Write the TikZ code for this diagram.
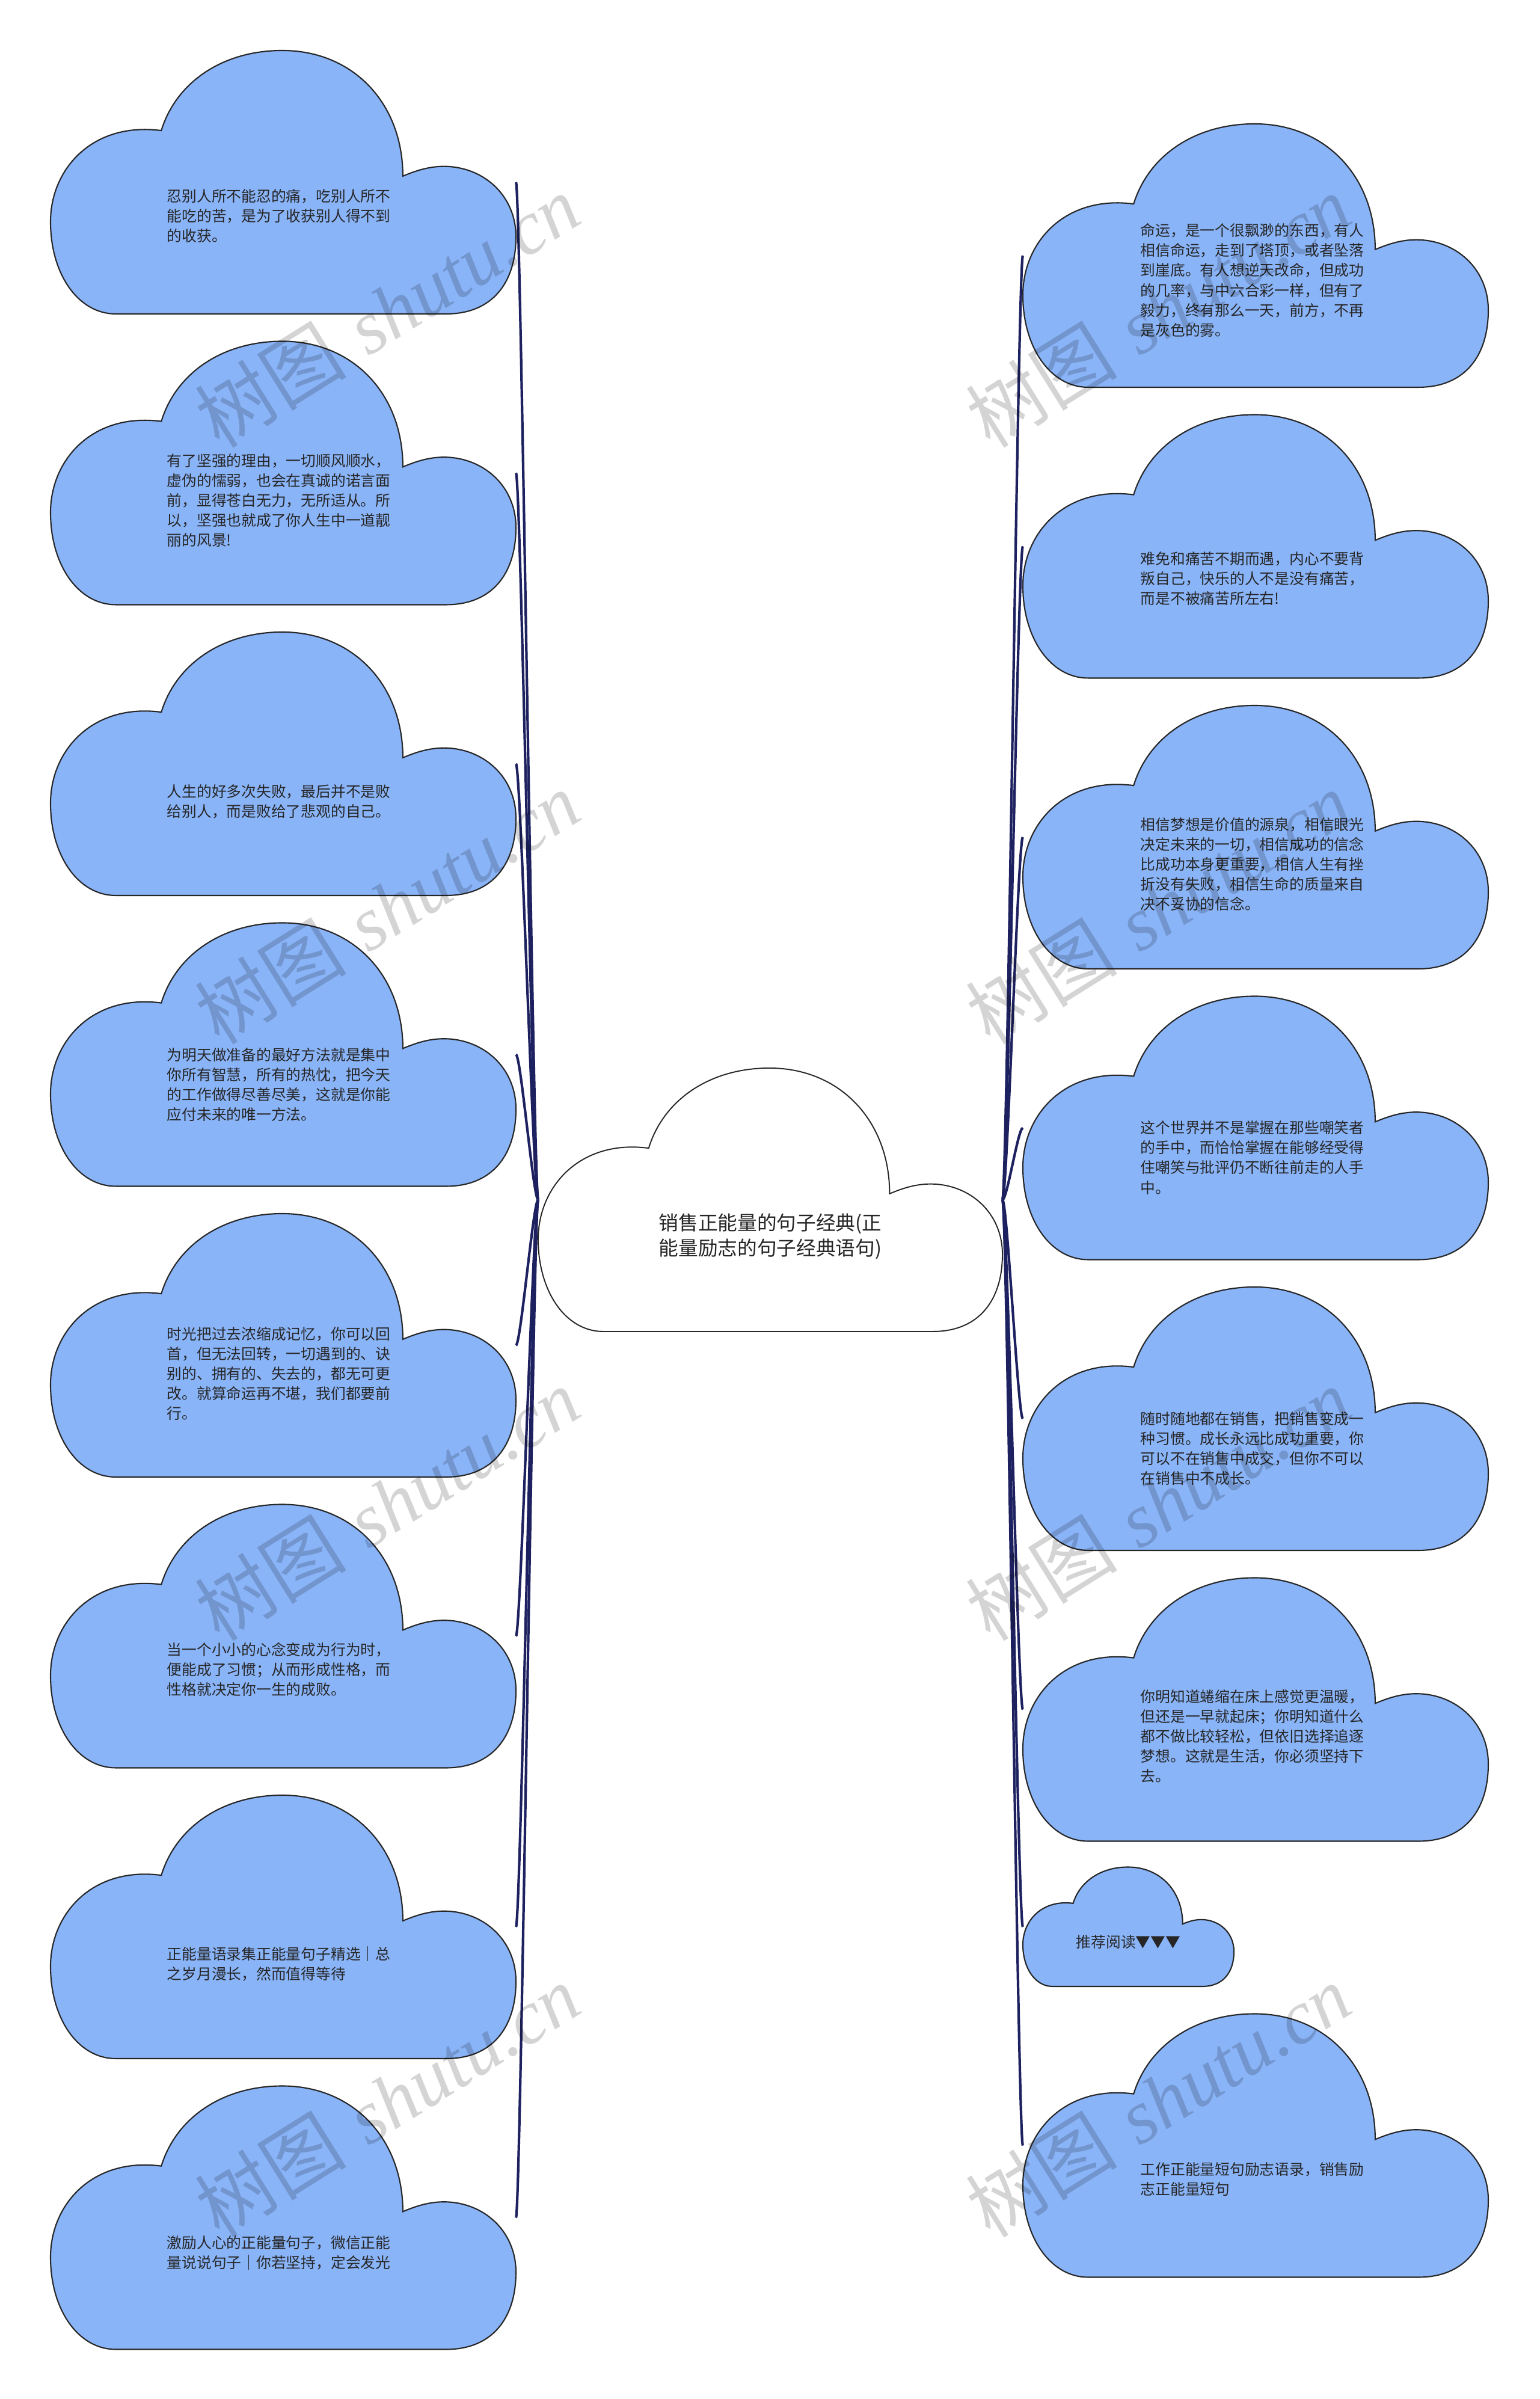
\documentclass[tikz,border=0pt]{standalone}
\usepackage{fontspec}
\newfontfamily\cjk{Noto Sans CJK SC}
\newfontfamily\wmfont{Liberation Serif}
\definecolor{cloudblue}{RGB}{138,180,248}
\definecolor{linknavy}{RGB}{30,33,95}
\begin{document}
\begin{tikzpicture}[
  link/.style={draw=linknavy,line width=1.2pt},
  cloud/.style={fill=cloudblue,draw=black!85,line width=0.6pt},
  hubcloud/.style={fill=white,draw=black!85,line width=0.55pt},
  quote/.style={font=\cjk\fontsize{7.05pt}{9.4pt}\selectfont,text=black!85,align=left,anchor=west,inner sep=0pt},
  hubtext/.style={font=\cjk\fontsize{9.3pt}{11.9pt}\selectfont,text=black!85,align=left,inner sep=0pt},
  wmark/.style={text=black,text opacity=0.17,rotate=32,inner sep=0pt,font=\fontsize{36pt}{40pt}\selectfont},
  cloudshape/.pic={
    \path[pic actions] (0.14,0) .. controls (0.06,0) and (0,0.15) .. (0,0.35)
      .. controls (0,0.55) and (0.09,0.73) .. (0.238,0.696)
      .. controls (0.27,0.88) and (0.37,1) .. (0.498,1)
      .. controls (0.65,1) and (0.757,0.8) .. (0.757,0.523)
      .. controls (0.78,0.54) and (0.81,0.56) .. (0.845,0.56)
      .. controls (0.93,0.56) and (1,0.45) .. (1,0.293)
      .. controls (1,0.12) and (0.95,0) .. (0.85,0) -- cycle;
  },
]
\useasboundingbox (0,0) rectangle (25.6,39.89);
% centre
\pic[hubcloud,xscale=7.72,yscale=4.38] at (8.95,17.75) {cloudshape};
\node[hubtext] (hub) at (12.81,19.33) {销售正能量的句子经典(正\\能量励志的句子经典语句)};
\coordinate (hubW) at (8.95,19.94);
\coordinate (hubE) at (16.67,19.94);
% left column
\foreach \by [count=\i] in {34.67,29.835,25.00,20.165,15.33,10.495,5.66,0.825}{
  \pic[cloud,xscale=7.74,yscale=4.38] at (0.84,\by) {cloudshape};
  \coordinate (l\i) at (8.58,\by+2.19);
  \draw[link] (hubW) .. controls +(-0.08,0) and +(0.08,0) .. (l\i);
}
\node[quote] (lq1) at (2.77,36.30) {忍别人所不能忍的痛，吃别人所不\\能吃的苦，是为了收获别人得不到\\的收获。};
\node[quote] (lq2) at (2.77,31.57) {有了坚强的理由，一切顺风顺水，\\虚伪的懦弱，也会在真诚的诺言面\\前，显得苍白无力，无所适从。所\\以，坚强也就成了你人生中一道靓\\丽的风景!};
\node[quote] (lq3) at (2.77,26.56) {人生的好多次失败，最后并不是败\\给别人，而是败给了悲观的自己。};
\node[quote] (lq4) at (2.77,21.85) {为明天做准备的最好方法就是集中\\你所有智慧，所有的热忱，把今天\\的工作做得尽善尽美，这就是你能\\应付未来的唯一方法。};
\node[quote] (lq5) at (2.77,17.05) {时光把过去浓缩成记忆，你可以回\\首，但无法回转，一切遇到的、诀\\别的、拥有的、失去的，都无可更\\改。就算命运再不堪，我们都要前\\行。};
\node[quote] (lq6) at (2.77,12.13) {当一个小小的心念变成为行为时，\\便能成了习惯；从而形成性格，而\\性格就决定你一生的成败。};
\node[quote] (lq7) at (2.77,7.24) {正能量语录集正能量句子精选｜总\\之岁月漫长，然而值得等待};
\node[quote] (lq8) at (2.77,2.43) {激励人心的正能量句子，微信正能\\量说说句子｜你若坚持，定会发光};
% right column
\foreach \by/\nm in {33.45/r1,28.615/r2,23.78/r3,18.945/r4,14.11/r5,9.275/r6,2.025/r8}{
  \pic[cloud,xscale=7.74,yscale=4.38] at (17.01,\by) {cloudshape};
  \coordinate (\nm) at (17.01,\by+2.19);
  \draw[link] (hubE) .. controls +(0.08,0) and +(-0.08,0) .. (\nm);
}
\pic[cloud,xscale=3.51,yscale=1.985] at (17.01,6.86) {cloudshape};
\coordinate (r7) at (17.01,7.85);
\draw[link] (hubE) .. controls +(0.08,0) and +(-0.08,0) .. (r7);
\node[quote] (rq1) at (18.96,35.23) {命运，是一个很飘渺的东西，有人\\相信命运，走到了塔顶，或者坠落\\到崖底。有人想逆天改命，但成功\\的几率，与中六合彩一样，但有了\\毅力，终有那么一天，前方，不再\\是灰色的雾。};
\node[quote] (rq2) at (18.96,30.27) {难免和痛苦不期而遇，内心不要背\\叛自己，快乐的人不是没有痛苦，\\而是不被痛苦所左右!};
\node[quote] (rq3) at (18.96,25.52) {相信梦想是价值的源泉，相信眼光\\决定未来的一切，相信成功的信念\\比成功本身更重要，相信人生有挫\\折没有失败，相信生命的质量来自\\决不妥协的信念。};
\node[quote] (rq4) at (18.96,20.64) {这个世界并不是掌握在那些嘲笑者\\的手中，而恰恰掌握在能够经受得\\住嘲笑与批评仍不断往前走的人手\\中。};
\node[quote] (rq5) at (18.96,15.80) {随时随地都在销售，把销售变成一\\种习惯。成长永远比成功重要，你\\可以不在销售中成交，但你不可以\\在销售中不成长。};
\node[quote] (rq6) at (18.96,11.02) {你明知道蜷缩在床上感觉更温暖，\\但还是一早就起床；你明知道什么\\都不做比较轻松，但依旧选择追逐\\梦想。这就是生活，你必须坚持下\\去。};
\node[quote] (rq7) at (17.89,7.60) {推荐阅读▼▼▼};
\node[quote] (rq8) at (18.96,3.65) {工作正能量短句励志语录，销售励\\志正能量短句};
% watermarks
\foreach \wy [count=\k] in {34.72,24.80,14.88,4.96}{
  \node[wmark] (wl\k) at (6.44,\wy) {{\cjk 树图} {\wmfont\itshape shutu.cn}};
  \node[wmark] (wr\k) at (19.26,\wy) {{\cjk 树图} {\wmfont\itshape shutu.cn}};
}
\end{tikzpicture}
\end{document}
